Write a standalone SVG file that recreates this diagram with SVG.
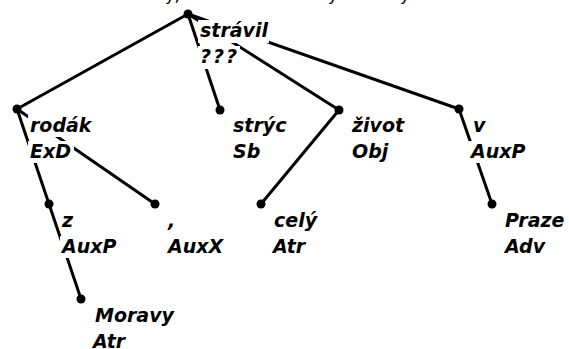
<svg xmlns="http://www.w3.org/2000/svg" width="569" height="349" viewBox="0 0 569 349">
<style>
.bg{fill:#ffffff}
.lbl{font-family:"DejaVu Sans","Verdana",sans-serif;font-weight:bold;font-style:italic;font-size:19px;fill:#000}
.cut{font-family:"DejaVu Sans",sans-serif;font-size:16px;fill:#000}
.dot{fill:#000}
.edge{stroke:#000;stroke-width:3;fill:none;stroke-linecap:round}
</style>
<rect x="0" y="0" width="569" height="349" fill="#ffffff"/>
<text class="cut" x="165" y="1">y,</text>
<text class="cut" x="328" y="1">y</text>
<text class="cut" x="400" y="1">y</text>
<g id="connectors">
<line class="edge" x1="188" y1="14" x2="17" y2="109"/>
<line class="edge" x1="188" y1="14" x2="220" y2="110"/>
<line class="edge" x1="188" y1="14" x2="339" y2="110"/>
<line class="edge" x1="188" y1="14" x2="459" y2="109"/>
<line class="edge" x1="17" y1="109" x2="49" y2="204"/>
<line class="edge" x1="17" y1="109" x2="155" y2="204"/>
<line class="edge" x1="49" y1="204" x2="81" y2="299"/>
<line class="edge" x1="339" y1="110" x2="261" y2="204"/>
<line class="edge" x1="459" y1="109" x2="492" y2="204"/>
</g>
<g id="n-stravil">
<rect class="bg" x="198" y="20" width="71" height="23"/>
<rect class="bg" x="198" y="46" width="42" height="23"/>
<circle class="dot" cx="188" cy="14" r="4.5"/>
<text class="lbl" x="200" y="37">strávil</text>
<text class="lbl" x="200" y="63" letter-spacing="2">???</text>
</g>
<g id="n-rodak">
<rect class="bg" x="28" y="115" width="66" height="22"/>
<rect class="bg" x="28" y="141" width="46" height="22"/>
<circle class="dot" cx="17" cy="109" r="4.5"/>
<text class="lbl" x="30" y="132">rodák</text>
<text class="lbl" x="30" y="158">ExD</text>
</g>
<g id="n-stryc">
<rect class="bg" x="231" y="115" width="57" height="22"/>
<rect class="bg" x="231" y="141" width="30" height="22"/>
<circle class="dot" cx="220" cy="110" r="4.5"/>
<text class="lbl" x="233" y="132">strýc</text>
<text class="lbl" x="233" y="158">Sb</text>
</g>
<g id="n-zivot">
<rect class="bg" x="350" y="115" width="56" height="22"/>
<rect class="bg" x="350" y="141" width="38" height="22"/>
<circle class="dot" cx="339" cy="110" r="4.5"/>
<text class="lbl" x="352" y="132">život</text>
<text class="lbl" x="352" y="158">Obj</text>
</g>
<g id="n-v">
<rect class="bg" x="471" y="115" width="16" height="22"/>
<rect class="bg" x="469" y="141" width="59" height="22"/>
<circle class="dot" cx="459" cy="109" r="4.5"/>
<text class="lbl" x="473" y="132">v</text>
<text class="lbl" x="471" y="158">AuxP</text>
</g>
<g id="n-z">
<rect class="bg" x="60" y="210" width="14" height="22"/>
<rect class="bg" x="60" y="236" width="59" height="22"/>
<circle class="dot" cx="49" cy="204" r="4.5"/>
<text class="lbl" x="62" y="227">z</text>
<text class="lbl" x="62" y="253">AuxP</text>
</g>
<g id="n-comma">
<rect class="bg" x="166" y="210" width="10" height="22"/>
<rect class="bg" x="166" y="236" width="60" height="22"/>
<circle class="dot" cx="155" cy="204" r="4.5"/>
<text class="lbl" x="168" y="227">,</text>
<text class="lbl" x="168" y="253">AuxX</text>
</g>
<g id="n-cely">
<rect class="bg" x="272" y="210" width="47" height="22"/>
<rect class="bg" x="272" y="236" width="35" height="22"/>
<circle class="dot" cx="261" cy="204" r="4.5"/>
<text class="lbl" x="274" y="227">celý</text>
<text class="lbl" x="273" y="253">Atr</text>
</g>
<g id="n-praze">
<rect class="bg" x="503" y="210" width="64" height="22"/>
<rect class="bg" x="503" y="236" width="43" height="22"/>
<circle class="dot" cx="492" cy="204" r="4.5"/>
<text class="lbl" x="505" y="227">Praze</text>
<text class="lbl" x="505" y="253">Adv</text>
</g>
<g id="n-moravy">
<rect class="bg" x="93" y="305" width="80" height="22"/>
<rect class="bg" x="91" y="331" width="35" height="18"/>
<circle class="dot" cx="81" cy="299" r="4.5"/>
<text class="lbl" x="95" y="322">Moravy</text>
<text class="lbl" x="93" y="348">Atr</text>
</g>
</svg>
